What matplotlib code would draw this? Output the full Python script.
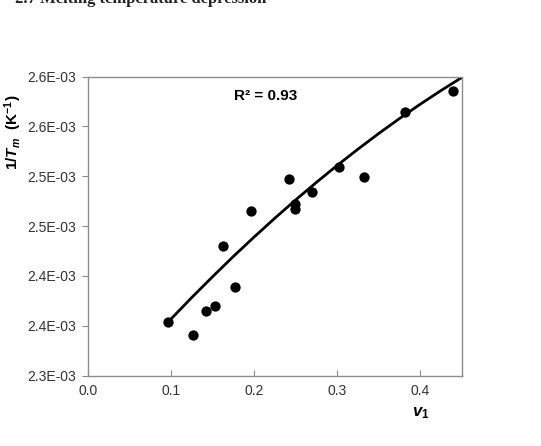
import matplotlib
matplotlib.use("Agg")
import matplotlib.pyplot as plt

plt.rcParams['font.family'] = ['Liberation Sans', 'DejaVu Sans']
plt.rcParams['mathtext.fontset'] = 'custom'
plt.rcParams['mathtext.rm'] = 'Liberation Sans:bold'
plt.rcParams['mathtext.it'] = 'Liberation Sans:bold:italic'
plt.rcParams['mathtext.bf'] = 'Liberation Sans:bold'

# volume fraction v1 and 1/Tm (K^-1)
v1 = [0.096, 0.127, 0.142, 0.153, 0.163, 0.177, 0.196, 0.242,
      0.249, 0.249, 0.270, 0.302, 0.333, 0.382, 0.440]
inv_tm = [2.3534e-3, 2.3406e-3, 2.3650e-3, 2.3700e-3, 2.4296e-3, 2.3885e-3,
          2.4647e-3, 2.4975e-3, 2.4720e-3, 2.4668e-3, 2.4841e-3, 2.5095e-3,
          2.4989e-3, 2.5640e-3, 2.5857e-3]

# trend line
fit_v1 = [0.0988, 0.125, 0.15, 0.175, 0.2, 0.225, 0.25, 0.275,
          0.3, 0.325, 0.35, 0.375, 0.4, 0.425, 0.45]
fit_inv_tm = [2.3557e-3, 2.3783e-3, 2.3991e-3, 2.4194e-3, 2.4389e-3,
              2.4578e-3, 2.4761e-3, 2.4937e-3, 2.5107e-3, 2.5270e-3,
              2.5427e-3, 2.5577e-3, 2.5721e-3, 2.5858e-3, 2.5989e-3]

xticks = [0.0, 0.1, 0.2, 0.3, 0.4]
xtick_labels = ['0.0', '0.1', '0.2', '0.3', '0.4']
yticks = [2.30e-3, 2.35e-3, 2.40e-3, 2.45e-3, 2.50e-3, 2.55e-3, 2.60e-3]
ytick_labels = ['2.3E-03', '2.4E-03', '2.4E-03', '2.5E-03', '2.5E-03', '2.6E-03', '2.6E-03']

fig = plt.figure(figsize=(5.41, 4.46), dpi=100)
ax = fig.add_axes([0.1627, 0.158, 0.6904, 0.6704])

ax.plot(fit_v1, fit_inv_tm, color='black', lw=2.0, zorder=2,
        solid_joinstyle='round')
ax.scatter(v1, inv_tm, s=55, color='black', zorder=3, linewidths=0)

ax.set_xlim(0, 0.45)
ax.set_ylim(2.30e-3, 2.60e-3)
ax.set_xticks(xticks)
ax.set_xticklabels(xtick_labels)
ax.set_yticks(yticks)
ax.set_yticklabels(ytick_labels)

for s in ax.spines.values():
    s.set_color('#8c8c8c')
    s.set_linewidth(1.0)
ax.tick_params(axis='x', direction='in', length=4, color='#8c8c8c',
               labelsize=10, labelcolor='#333333', pad=6)
ax.tick_params(axis='y', direction='out', length=4, color='#8c8c8c',
               labelsize=10, labelcolor='#333333', pad=5)

ax.text(0.475, 0.935, 'R² = 0.93', transform=ax.transAxes, ha='center',
        va='center', fontsize=11, fontweight='bold')

fig.text(13 / 541, 1 - 132 / 446, r'1/$T_m$  (K$^{\mathrm{-1}}$)', rotation=90,
         ha='center', va='center', fontsize=11, fontweight='bold')
fig.text(421 / 541, 1 - 413 / 446, r'$v_{\mathit{1}}$', ha='center', va='center',
         fontsize=12)

# clipped section heading from the page above
fig.text(0.028, 0.993, '2.7 Melting temperature depression', ha='left',
         va='baseline', fontsize=12, fontweight='bold',
         family='Liberation Serif', color='#222222')

fig.savefig('out.png', dpi=100)
